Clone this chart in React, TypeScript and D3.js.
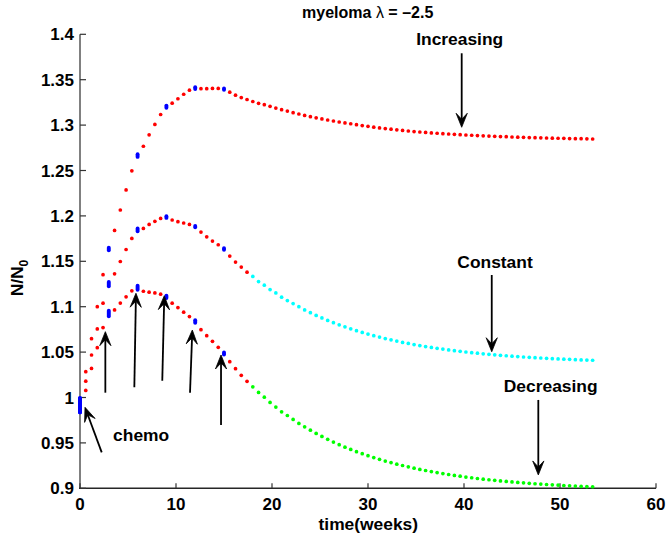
import React from 'react';
import * as d3 from 'd3';

// ---------------- data ----------------
const TIME_STEP = 0.6; // weeks between samples
const COLOR_SWITCH_TIME = 18; // weeks: after this, constant/decreasing change colour
const chemoTimes = [0, 3, 6, 9, 12, 15];

const increasing = [
  0.9915, 1.0284, 1.0648, 1.1000, 1.1353,
  1.1636, 1.1840, 1.2065, 1.2286, 1.2496,
  1.2665, 1.2767, 1.2893, 1.3007, 1.3117,
  1.3203, 1.3242, 1.3290, 1.3340, 1.3385,
  1.3408, 1.3401, 1.3401, 1.3404, 1.3404,
  1.3396, 1.3363, 1.3330, 1.3303, 1.3282, 1.3260, 1.3240, 1.3225, 1.3207, 1.3187,
  1.3170, 1.3155, 1.3137, 1.3122, 1.3107,
  1.3093, 1.3080, 1.3068, 1.3056, 1.3045, 1.3034, 1.3024, 1.3015, 1.3005, 1.2995,
  1.2986, 1.2977, 1.2969, 1.2962, 1.2955, 1.2948, 1.2941, 1.2935, 1.2929, 1.2924,
  1.2919, 1.2914, 1.2910, 1.2906, 1.2902, 1.2898, 1.2894, 1.2891, 1.2888, 1.2885,
  1.2882, 1.2879, 1.2876, 1.2874, 1.2872, 1.2869, 1.2867, 1.2865, 1.2863, 1.2861,
  1.2860, 1.2858, 1.2856, 1.2855, 1.2854, 1.2852, 1.2851, 1.2850, 1.2849, 1.2847,
];

const constant = [
  0.9915, 1.0180, 1.0468, 1.0755, 1.1039,
  1.1248, 1.1362, 1.1498, 1.1630, 1.1752,
  1.1846, 1.1862, 1.1906, 1.1940, 1.1972,
  1.1987, 1.1955, 1.1936, 1.1922, 1.1906,
  1.1882, 1.1822, 1.1770, 1.1723, 1.1682,
  1.1636, 1.1557, 1.1491, 1.1436, 1.1380, 1.1333, 1.1277, 1.1237, 1.1189, 1.1152,
  1.1105, 1.1067, 1.1034, 1.1000, 1.0965,
  1.0934, 1.0904, 1.0876, 1.0849, 1.0824, 1.0800, 1.0778, 1.0756, 1.0736, 1.0717,
  1.0698, 1.0681, 1.0665, 1.0649, 1.0635, 1.0621, 1.0607, 1.0595, 1.0583, 1.0572,
  1.0561, 1.0551, 1.0542, 1.0533, 1.0524, 1.0516, 1.0508, 1.0501, 1.0494, 1.0488,
  1.0481, 1.0476, 1.0470, 1.0465, 1.0460, 1.0455, 1.0451, 1.0446, 1.0442, 1.0439,
  1.0435, 1.0431, 1.0428, 1.0425, 1.0422, 1.0420, 1.0417, 1.0414, 1.0412, 1.0410,
];

const decreasing = [
  0.9915, 1.0078, 1.0320, 1.0549, 1.0770,
  1.0925, 1.0965, 1.1040, 1.1109, 1.1175,
  1.1209, 1.1170, 1.1160, 1.1152, 1.1138,
  1.1108, 1.1039, 1.0990, 1.0940, 1.0891,
  1.0837, 1.0747, 1.0681, 1.0619, 1.0553,
  1.0485, 1.0394, 1.0317, 1.0244, 1.0178, 1.0118, 1.0056, 1.0004, 0.9946, 0.9894,
  0.9842, 0.9802, 0.9758, 0.9714, 0.9677,
  0.9640, 0.9604, 0.9571, 0.9539, 0.9509, 0.9480, 0.9453, 0.9428, 0.9403, 0.9381,
  0.9359, 0.9338, 0.9319, 0.9300, 0.9283, 0.9266, 0.9251, 0.9236, 0.9222, 0.9208,
  0.9196, 0.9184, 0.9173, 0.9162, 0.9152, 0.9142, 0.9133, 0.9124, 0.9116, 0.9108,
  0.9101, 0.9094, 0.9088, 0.9081, 0.9076, 0.9070, 0.9065, 0.9060, 0.9055, 0.9050,
  0.9046, 0.9042, 0.9038, 0.9035, 0.9031, 0.9028, 0.9025, 0.9022, 0.9019, 0.9017,
];

// values just before / after each chemo dose (vertical jump shown in blue)
const increasingChemoLo = [0.9838, 1.1622, 1.2650, 1.3190, 1.3398, 1.3388];
const increasingChemoHi = [0.9992, 1.1650, 1.2680, 1.3215, 1.3418, 1.3404];
const constantChemoLo = [0.9838, 1.1225, 1.1831, 1.1978, 1.1874, 1.1628];
const constantChemoHi = [0.9992, 1.1272, 1.1861, 1.1996, 1.1890, 1.1644];
const decreasingChemoLo = [0.9838, 1.0894, 1.1187, 1.1095, 1.0824, 1.0474];
const decreasingChemoHi = [0.9992, 1.0956, 1.1231, 1.1121, 1.0850, 1.0496];

const xTicks = [0, 10, 20, 30, 40, 50, 60];
const yTicks = [0.9, 0.95, 1, 1.05, 1.1, 1.15, 1.2, 1.25, 1.3, 1.35, 1.4];
const yTickLabels = ['0.9', '0.95', '1', '1.05', '1.1', '1.15', '1.2', '1.25', '1.3', '1.35', '1.4'];

// annotation labels (data coordinates)
const labelTexts = ['Increasing', 'Constant', 'Decreasing', 'chemo'];
const labelT = [39.55, 43.23, 49.03, 6.37];
const labelV = [1.3882, 1.1423, 1.0057, 0.9524];

// arrows: tail (t0,v0) -> tip (t1,v1)
const arrowT0 = [39.76, 42.89, 47.74, 2.26, 2.64, 5.66, 8.57, 11.46, 14.69];
const arrowV0 = [1.3791, 1.1349, 0.9973, 0.9396, 1.0053, 1.0112, 1.0185, 1.0053, 0.9697];
const arrowT1 = [39.76, 42.89, 47.74, 0.52, 2.64, 5.83, 8.78, 11.70, 14.69];
const arrowV1 = [1.2976, 1.0504, 0.9147, 0.9892, 1.0725, 1.1148, 1.1121, 1.0743, 1.0468];

// ---------------- chart ----------------
const W = 666;
const H = 540;
const FONT = '"Liberation Sans", Arial, Helvetica, sans-serif';

export default function App() {
  React.useEffect(() => {
    document.body.style.margin = '0';
  }, []);

  const x = d3.scaleLinear().domain([0, 60]).range([80, 656]);
  const y = d3.scaleLinear().domain([0.9, 1.4]).range([488.3, 34.3]);

  const series = [
    { values: increasing, lo: increasingChemoLo, hi: increasingChemoHi, early: '#ff0000', late: '#ff0000' },
    { values: constant, lo: constantChemoLo, hi: constantChemoHi, early: '#ff0000', late: '#00ffff' },
    { values: decreasing, lo: decreasingChemoLo, hi: decreasingChemoHi, early: '#ff0000', late: '#00ff00' },
  ];

  const isChemoIndex = (i: number) =>
    chemoTimes.some((c) => Math.abs(c - i * TIME_STEP) < 1e-6);

  const arrowHead = (x0: number, y0: number, x1: number, y1: number) => {
    const ang = Math.atan2(y1 - y0, x1 - x0);
    const L = 14, hw = 5.6, notch = 8;
    const ux = Math.cos(ang), uy = Math.sin(ang);
    const px = -uy, py = ux;
    const bx = x1 - ux * L, by = y1 - uy * L;
    const nx = x1 - ux * notch, ny = y1 - uy * notch;
    return {
      d: `M${x1},${y1} L${bx + px * hw},${by + py * hw} L${nx},${ny} L${bx - px * hw},${by - py * hw} Z`,
      nx, ny,
    };
  };

  return (
    <svg width={W} height={H} style={{ position: 'absolute', left: 0, top: 0, background: '#fff' }}
      fontFamily={FONT} fontWeight="bold">
      <rect x={0} y={0} width={W} height={H} fill="#fff" />

      {/* axes */}
      <line x1={80} x2={80} y1={y(1.4)} y2={y(0.9)} stroke="#808080" strokeWidth={2} />
      <line x1={79} x2={x(60)} y1={y(0.9)} y2={y(0.9)} stroke="#262626" strokeWidth={1.6} />
      {yTicks.map((v, i) => (
        <g key={'yt' + i}>
          <line x1={80} x2={86} y1={y(v)} y2={y(v)} stroke="#333" strokeWidth={1.2} />
          <text x={74} y={y(v) + 6} textAnchor="end" fontSize={17} fill="#000">{yTickLabels[i]}</text>
        </g>
      ))}
      {xTicks.map((t, i) => (
        <g key={'xt' + i}>
          <line x1={x(t)} x2={x(t)} y1={y(0.9)} y2={y(0.9) - 5} stroke="#333" strokeWidth={1.2} />
          <text x={x(t)} y={510} textAnchor="middle" fontSize={17} fill="#000">{t}</text>
        </g>
      ))}

      {/* dots */}
      {series.map((s, si) => (
        <g key={'s' + si}>
          {s.values.map((v, i) =>
            isChemoIndex(i) ? null : (
              <circle key={i} cx={x(i * TIME_STEP)} cy={y(v)} r={1.85}
                fill={i * TIME_STEP < COLOR_SWITCH_TIME - 1e-6 ? s.early : s.late} />
            )
          )}
          {chemoTimes.map((c, k) => (
            <line key={'c' + k} x1={x(c)} x2={x(c)} y1={y(s.lo[k])} y2={y(s.hi[k])}
              stroke="#0000ff" strokeWidth={3.9} strokeLinecap="round" />
          ))}
        </g>
      ))}

      {/* arrows */}
      {arrowT0.map((t0, i) => {
        const x0 = x(t0), y0 = y(arrowV0[i]), x1 = x(arrowT1[i]), y1 = y(arrowV1[i]);
        const h = arrowHead(x0, y0, x1, y1);
        return (
          <g key={'a' + i}>
            <line x1={x0} y1={y0} x2={h.nx} y2={h.ny} stroke="#000" strokeWidth={1.8} />
            <path d={h.d} fill="#000" stroke="#000" strokeWidth={0.8} strokeLinejoin="miter" />
          </g>
        );
      })}

      {/* labels */}
      {labelTexts.map((s, i) => (
        <text key={'l' + i} x={x(labelT[i])} y={y(labelV[i])} textAnchor="middle" fontSize={17.4} fill="#000">{s}</text>
      ))}

      {/* title */}
      <text x={367.7} y={18.3} textAnchor="middle" fontSize={16} fill="#000">
        myeloma <tspan fontWeight="normal">λ</tspan> = –2.5
      </text>

      {/* axis labels */}
      <text x={368.3} y={530} textAnchor="middle" fontSize={17.4} fill="#000">time(weeks)</text>
      <text transform="translate(23,278) rotate(-90)" textAnchor="middle" fontSize={17.4} fill="#000">
        N/N<tspan fontSize={12} dy={5}>0</tspan>
      </text>
    </svg>
  );
}
